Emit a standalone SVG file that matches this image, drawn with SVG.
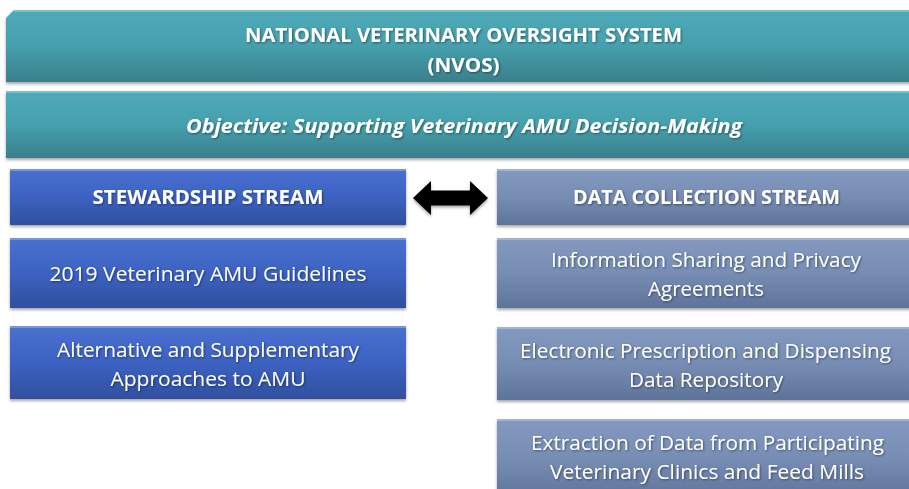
<svg xmlns="http://www.w3.org/2000/svg" width="909" height="489" viewBox="0 0 909 489">
<defs>
<linearGradient id="gTeal" x1="0" y1="0" x2="0" y2="1">
<stop offset="0" stop-color="#4faab8"/><stop offset="0.5" stop-color="#45a0ad"/><stop offset="1" stop-color="#3a7f8b"/>
</linearGradient>
<linearGradient id="gBlue" x1="0" y1="0" x2="0" y2="1">
<stop offset="0" stop-color="#4a70cf"/><stop offset="0.5" stop-color="#3c62c2"/><stop offset="1" stop-color="#304f9f"/>
</linearGradient>
<linearGradient id="gGrey" x1="0" y1="0" x2="0" y2="1">
<stop offset="0" stop-color="#8399c0"/><stop offset="0.5" stop-color="#778db4"/><stop offset="1" stop-color="#5f7399"/>
</linearGradient>
<filter id="sh" x="-5%" y="-10%" width="110%" height="130%">
<feDropShadow dx="0" dy="2" stdDeviation="1.5" flood-color="#000" flood-opacity="0.35"/>
</filter>
<filter id="tsh" x="-5%" y="-20%" width="110%" height="150%">
<feDropShadow dx="1" dy="1" stdDeviation="0.8" flood-color="#000" flood-opacity="0.45"/>
</filter>
</defs>
<style>
text{font-family:"Open Sans","Noto Sans","Liberation Sans",sans-serif;fill:#fff;text-anchor:middle;filter:url(#tsh)}
.b{font-weight:bold;font-size:19px}
.n{font-size:20.5px}
.hl{fill:none;stroke:#fff;stroke-opacity:0.35;stroke-width:1.5}
</style>
<rect width="909" height="489" fill="#fff"/>
<g id="nvos" filter="url(#sh)">
<path d="M14,10 H921 V82 H6 V18 Z" fill="url(#gTeal)"/>
<line class="hl" x1="14" y1="11" x2="921" y2="11"/>
<text class="b" x="463.5" y="42" textLength="437" lengthAdjust="spacingAndGlyphs">NATIONAL VETERINARY OVERSIGHT SYSTEM</text>
<text class="b" x="463.5" y="72" textLength="72" lengthAdjust="spacingAndGlyphs">(NVOS)</text>
</g>
<g id="objective" filter="url(#sh)">
<rect x="6" y="91" width="915" height="67" fill="url(#gTeal)"/>
<line class="hl" x1="6" y1="92" x2="921" y2="92"/>
<text class="b" x="464" y="133" font-style="italic" textLength="556" lengthAdjust="spacingAndGlyphs">Objective: Supporting Veterinary AMU Decision-Making</text>
</g>
<g id="stewardship" filter="url(#sh)">
<rect x="10" y="169" width="396" height="56" fill="url(#gBlue)"/>
<line class="hl" x1="10" y1="170" x2="406" y2="170"/>
<text class="b" x="208" y="204" textLength="231" lengthAdjust="spacingAndGlyphs">STEWARDSHIP STREAM</text>
</g>
<g id="guidelines" filter="url(#sh)">
<rect x="10" y="238" width="396" height="70" fill="url(#gBlue)"/>
<line class="hl" x1="10" y1="239" x2="406" y2="239"/>
<text class="n" x="208" y="281" textLength="317" lengthAdjust="spacingAndGlyphs">2019 Veterinary AMU Guidelines</text>
</g>
<g id="alternative" filter="url(#sh)">
<rect x="10" y="326" width="396" height="73" fill="url(#gBlue)"/>
<line class="hl" x1="10" y1="327" x2="406" y2="327"/>
<text class="n" x="208" y="357" textLength="302" lengthAdjust="spacingAndGlyphs">Alternative and Supplementary</text>
<text class="n" x="208" y="386" textLength="195" lengthAdjust="spacingAndGlyphs">Approaches to AMU</text>
</g>
<g id="datacollection" filter="url(#sh)">
<rect x="497" y="169" width="420" height="56" fill="url(#gGrey)"/>
<line class="hl" x1="497" y1="170" x2="917" y2="170"/>
<text class="b" x="706.5" y="204" textLength="267" lengthAdjust="spacingAndGlyphs">DATA COLLECTION STREAM</text>
</g>
<g id="infosharing" filter="url(#sh)">
<rect x="497" y="238" width="420" height="70" fill="url(#gGrey)"/>
<line class="hl" x1="497" y1="239" x2="917" y2="239"/>
<text class="n" x="706" y="267" textLength="310" lengthAdjust="spacingAndGlyphs">Information Sharing and Privacy</text>
<text class="n" x="706" y="296" textLength="116" lengthAdjust="spacingAndGlyphs">Agreements</text>
</g>
<g id="electronic" filter="url(#sh)">
<rect x="497" y="327" width="420" height="73" fill="url(#gGrey)"/>
<line class="hl" x1="497" y1="328" x2="917" y2="328"/>
<text class="n" x="705.5" y="358" textLength="371" lengthAdjust="spacingAndGlyphs">Electronic Prescription and Dispensing</text>
<text class="n" x="706" y="387" textLength="154" lengthAdjust="spacingAndGlyphs">Data Repository</text>
</g>
<g id="extraction" filter="url(#sh)">
<rect x="497" y="419" width="420" height="80" fill="url(#gGrey)"/>
<line class="hl" x1="497" y1="420" x2="917" y2="420"/>
<text class="n" x="707.5" y="450" textLength="353" lengthAdjust="spacingAndGlyphs">Extraction of Data from Participating</text>
<text class="n" x="707" y="479" textLength="314" lengthAdjust="spacingAndGlyphs">Veterinary Clinics and Feed Mills</text>
</g>
<g id="connectors" filter="url(#sh)">
<path d="M413,198 L431,181 V190.5 H470 V181 L488,198 L470,215 V205.5 H431 V215 Z" fill="#000"/>
</g>
</svg>
